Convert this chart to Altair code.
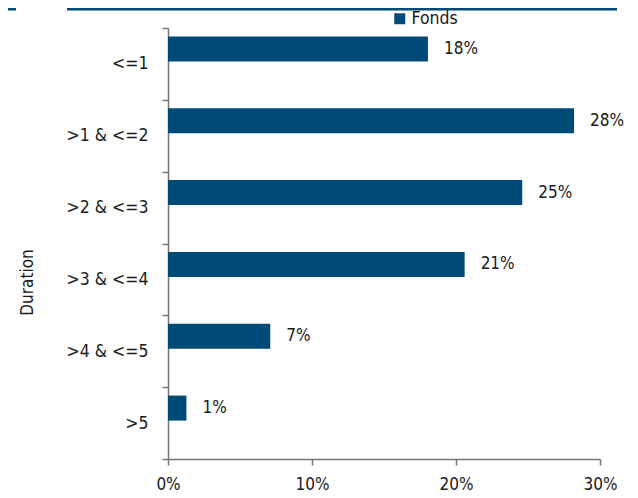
import altair as alt
import pandas as pd

categories = ["<=1", ">1 & <=2", ">2 & <=3", ">3 & <=4", ">4 & <=5", ">5"]
values = [0.1805, 0.282, 0.246, 0.206, 0.071, 0.0128]
series_name = "Fonds"
x_ticks = [0, 0.1, 0.2, 0.3]

BAR = "#004a78"
GREY = "#7a7370"
FONT = "DejaVu Sans Condensed, Liberation Sans Narrow, DejaVu Sans"

df = pd.DataFrame({"cat": categories, "val": values, "series": [series_name] * len(categories)})

base = alt.Chart(df)

y_enc = alt.Y(
    "cat:N",
    sort=categories,
    scale=alt.Scale(paddingInner=0, paddingOuter=0),
    axis=alt.Axis(
        title="Duration",
        tickBand="extent",
        tickSize=6,
        tickColor=GREY,
        domainColor=GREY,
        domainWidth=1.5,
        tickWidth=1.5,
        labelPadding=14,
        labelFontSize=17.5,
        labelColor="#1a1a1a",
        labelFont=FONT,
        titleFont=FONT,
        titleFontSize=17,
        titleFontWeight="normal",
        titleColor="#1a1a1a",
        titleX=-141,
        titleY=254,
        titleAngle=270,
        titleAlign="center",
        titleBaseline="middle",
        grid=False,
    ),
)

x_enc = alt.X(
    "val:Q",
    scale=alt.Scale(domain=[0, 0.3], nice=False),
    axis=alt.Axis(
        title=None,
        values=x_ticks,
        format=".0%",
        tickSize=6,
        tickColor=GREY,
        domainColor=GREY,
        domainWidth=1.5,
        tickWidth=1.5,
        labelPadding=11,
        labelFlush=False,
        labelFontSize=17,
        labelColor="#1a1a1a",
        labelFont=FONT,
        grid=False,
    ),
)

bars = base.mark_bar(height=25, yOffset=-15).encode(
    x=x_enc,
    y=y_enc,
    color=alt.Color(
        "series:N",
        scale=alt.Scale(range=[BAR]),
        legend=alt.Legend(
            title=None,
            orient="none",
            legendX=223,
            legendY=-18,
            symbolType="square",
            symbolSize=121,
            symbolStrokeWidth=0,
            labelFontSize=17.5,
            labelFont=FONT,
            labelColor="#1a1a1a",
            padding=0,
            labelOffset=3,
        ),
    ),
)

labels = base.mark_text(align="left", baseline="middle", dx=16, yOffset=-15, fontSize=17, font=FONT, color="#1a1a1a").encode(
    x="val:Q",
    y=alt.Y("cat:N", sort=categories),
    text=alt.Text("val:Q", format=".0%"),
)

deco = alt.Chart(pd.DataFrame({"a": [0, 1]}))
rule1 = deco.transform_filter("datum.a == 0").mark_rule(color=BAR, strokeWidth=3).encode(
    x=alt.value(-160), x2=alt.value(-152), y=alt.value(-19)
)
rule2 = deco.transform_filter("datum.a == 0").mark_rule(color=BAR, strokeWidth=3).encode(
    x=alt.value(-101), x2=alt.value(449), y=alt.value(-19)
)

chart = alt.layer(bars, labels, rule1, rule2).properties(
    width=432,
    height=431,
    autosize=alt.AutoSizeParams(type="none"),
    padding={"left": 160, "top": 20, "right": 30, "bottom": 36},
).configure_view(stroke=None)

chart.save("out.html", embed_options={"renderer": "svg", "actions": False})
